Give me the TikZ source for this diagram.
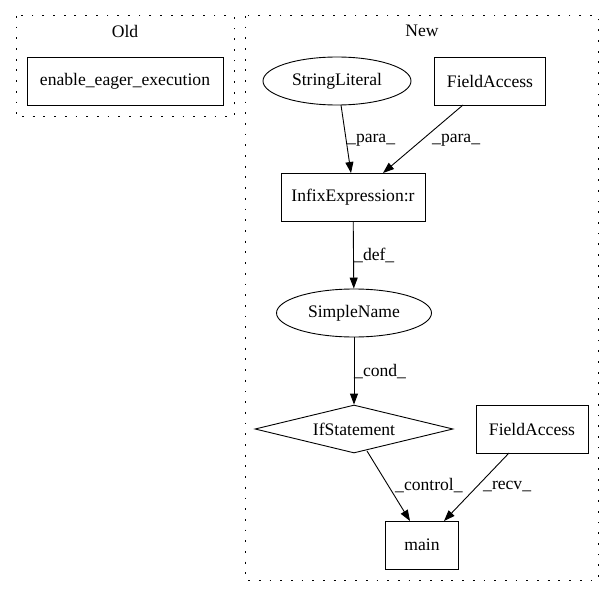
\documentclass[tikz,border=0pt]{standalone}
\usepackage{fontspec}
\setmainfont{Liberation Serif}
\usetikzlibrary{arrows.meta,shapes.geometric}
\begin{document}
\begin{tikzpicture}[x=1pt,y=-1pt,
  every node/.style={font=\fontsize{17.6}{20}\selectfont},
  cluster/.style={draw,line width=1pt,dash pattern=on 1.8pt off 8.9pt},
  boxnode/.style={draw,line width=0.9pt,rectangle,inner sep=0pt,minimum height=48pt},
  ellnode/.style={draw,line width=0.9pt,ellipse,inner sep=0pt,minimum height=48pt},
  dianode/.style={draw,line width=0.9pt,diamond,inner sep=0pt,aspect=4},
  edge/.style={draw,line width=0.9pt,-{Triangle[length=11pt,width=8pt]}},
  elabel/.style={inner sep=0pt,anchor=west}
]
\useasboundingbox (0,0) rectangle (615,596);
% clusters
\draw[cluster] (16,16) rectangle (234,117);
\node (oldlbl) at (125,31) {Old};
\draw[cluster] (245,16) rectangle (598,580);
\node (newlbl) at (422,31) {New};
% nodes
\node[boxnode,minimum width=196pt] (eee) at (125,81) {enable\_eager\_execution};
\node[ellnode,minimum width=148pt] (sl) at (337,81) {StringLiteral};
\node[boxnode,minimum width=111pt] (fa1) at (490,81) {FieldAccess};
\node[boxnode,minimum width=144pt] (infix) at (353,197) {InfixExpression:r};
\node[ellnode,minimum width=155pt] (sn) at (354,313) {SimpleName};
\node[dianode,minimum width=198pt,minimum height=48pt] (ifs) at (354,429) {IfStatement};
\node[boxnode,minimum width=112pt] (fa2) at (532,429) {FieldAccess};
\node[boxnode,minimum width=73pt] (main) at (422,545) {main};
% edges
\draw[edge] (341,105) -- (351,173);
\draw[edge] (463,105) -- (383,173);
\draw[edge] (infix) -- (sn);
\draw[edge] (sn) -- (ifs);
\draw[edge] (367,451) -- (410,521);
\draw[edge] (509,453) -- (444,521);
% labels
\node[elabel] (l1) at (347,140) {\_para\_};
\node[elabel] (l2) at (432,140) {\_para\_};
\node[elabel] (l3) at (354,255) {\_def\_};
\node[elabel] (l4) at (354,372) {\_cond\_};
\node[elabel] (l5) at (395,486) {\_control\_};
\node[elabel] (l6) at (483,486) {\_recv\_};
\end{tikzpicture}
\end{document}
